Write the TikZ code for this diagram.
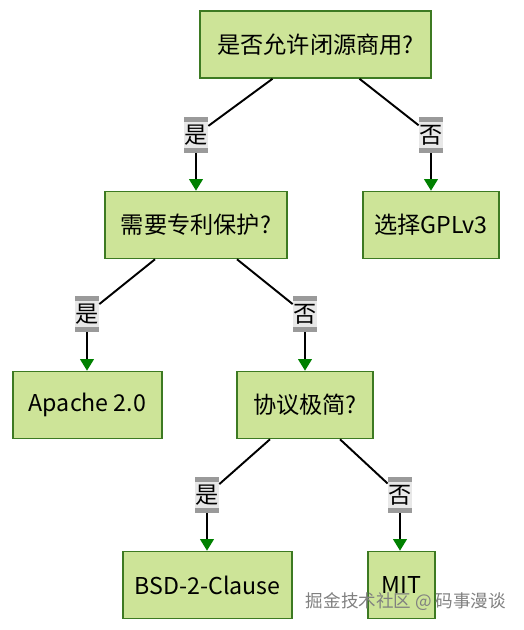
\documentclass[tikz,border=0pt]{standalone}
\usepackage{fontspec}
\setmainfont{Noto Sans CJK SC}
\usetikzlibrary{arrows.meta}
\definecolor{decfill}{HTML}{CDE498}
\definecolor{decline}{HTML}{3D7A22}
\definecolor{tipcol}{HTML}{008000}
\definecolor{lblfill}{HTML}{E8E8E8}
\definecolor{lblband}{HTML}{9A9A9A}
\tikzset{
  dec/.style={draw=decline, line width=0.9pt, fill=decfill, text=black,
    minimum height=1.34cm, inner sep=2pt, align=center},
  lbl/.style={fill=lblfill, text=black, minimum width=0.48cm,
    minimum height=0.72cm, inner sep=0pt,
    path picture={
      \fill[lblband] (path picture bounding box.north west)
        rectangle ([yshift=-0.1cm]path picture bounding box.north east);
      \fill[lblband] (path picture bounding box.south west)
        rectangle ([yshift=0.1cm]path picture bounding box.south east);}},
  ln/.style={draw=black, line width=1.1pt},
  arr/.style={ln, -{Triangle[length=2.3mm, width=2.7mm, color=tipcol]}}}

\begin{document}
\begin{tikzpicture}[x=0.02cm, y=-0.02cm, font=\fontsize{13.2}{15}\selectfont]
  \useasboundingbox (0,0) rectangle (524,630);
  % decision boxes
  \node[dec, minimum width=4.62cm] (root) at (315.5,44.5) {是否允许闭源商用?};
  \node[dec, minimum width=3.64cm] (patent) at (196,225) {需要专利保护?};
  \node[dec, minimum width=2.72cm] (gpl) at (431,225) {选择GPLv3};
  \node[dec, minimum width=2.98cm] (apache) at (87.5,405) {Apache 2.0};
  \node[dec, minimum width=2.72cm] (simple) at (305,405) {协议极简?};
  \node[dec, minimum width=3.38cm] (bsd) at (207.5,585) {BSD-2-Clause};
  \node[dec, minimum width=1.34cm] (mit) at (401.5,585) {MIT};
  % edge labels
  \node[lbl] (y1) at (196,135) {是};
  \node[lbl] (n1) at (431,135) {否};
  \node[lbl] (y2) at (87,314) {是};
  \node[lbl] (n2) at (305,314) {否};
  \node[lbl] (y3) at (207,495) {是};
  \node[lbl] (n3) at (400,495) {否};
  % connectors
  \draw[ln] (root.south) ++(-43,0) -- (y1);
  \draw[arr] (y1) -- (patent);
  \draw[ln] (root.south) ++(44,0) -- (n1);
  \draw[arr] (n1) -- (gpl);
  \draw[ln] (patent.south) ++(-41,0) -- (y2);
  \draw[arr] (y2) -- (apache.north -| y2);
  \draw[ln] (patent.south) ++(41,0) -- (n2);
  \draw[arr] (n2) -- (simple);
  \draw[ln] (simple.south) ++(-35,0) -- (y3);
  \draw[arr] (y3) -- (bsd.north -| y3);
  \draw[ln] (simple.south) ++(35,0) -- (n3);
  \draw[arr] (n3) -- (mit.north -| n3);
  % watermark
  \node[text=black!50, font=\fontsize{10}{12}\selectfont] (mark) at (406,602)
    {掘金技术社区 @ 码事漫谈};
\end{tikzpicture}
\end{document}
